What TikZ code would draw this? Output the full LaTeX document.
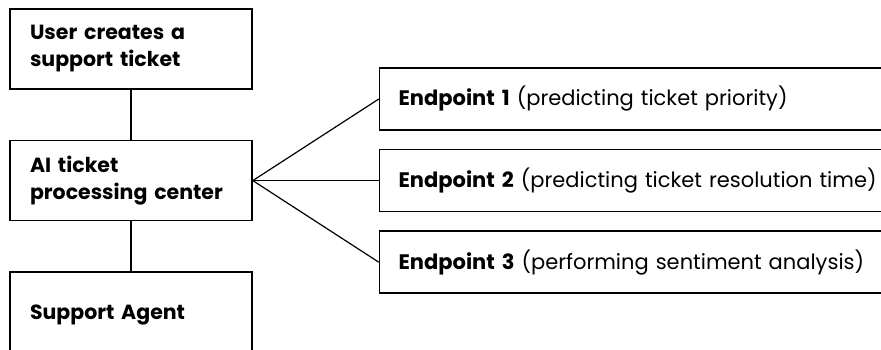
\documentclass[tikz,border=0pt]{standalone}
\usepackage{fontspec}
\setmainfont{Poppins}
\usetikzlibrary{positioning}

\begin{document}
\begin{tikzpicture}[
  node distance=50pt and 126pt,
  stage/.style={draw, line width=1.6pt, minimum width=242pt, minimum height=80pt, text width=202pt, inner xsep=20pt, align=left, font=\fontsize{20.5}{27}\selectfont\bfseries},
  endpoint/.style={draw, line width=1.6pt, minimum height=62pt, text width=482pt, inner xsep=19pt, align=left, font=\fontsize{21}{27}\selectfont},
  link/.style={line width=1.2pt},
]
\useasboundingbox (0,0) rectangle (881pt,-349pt);
\clip (0,0) rectangle (881pt,-349pt);

% Left column — ticket flow
\node[stage] (user) at (131pt,-49pt) {User creates a\\support ticket};
\node[stage, below=of user] (center) {AI ticket\\processing center};
\node[stage, below=of center, minimum height=86pt] (agent) {Support Agent};

% Right column — model endpoints
\node[endpoint, right=of center] (ep2) {\textbf{Endpoint 2} (predicting ticket resolution time)};
\node[endpoint, above=18pt of ep2] (ep1) {\textbf{Endpoint 1} (predicting ticket priority)};
\node[endpoint, below=18pt of ep2] (ep3) {\textbf{Endpoint 3} (performing sentiment analysis)};

% Connectors
\draw[link] (user) -- (center);
\draw[link] (center) -- (agent);
\foreach \ep in {ep1, ep2, ep3}
  \draw[link] (center.east) -- (\ep.west);

\end{tikzpicture}
\end{document}
